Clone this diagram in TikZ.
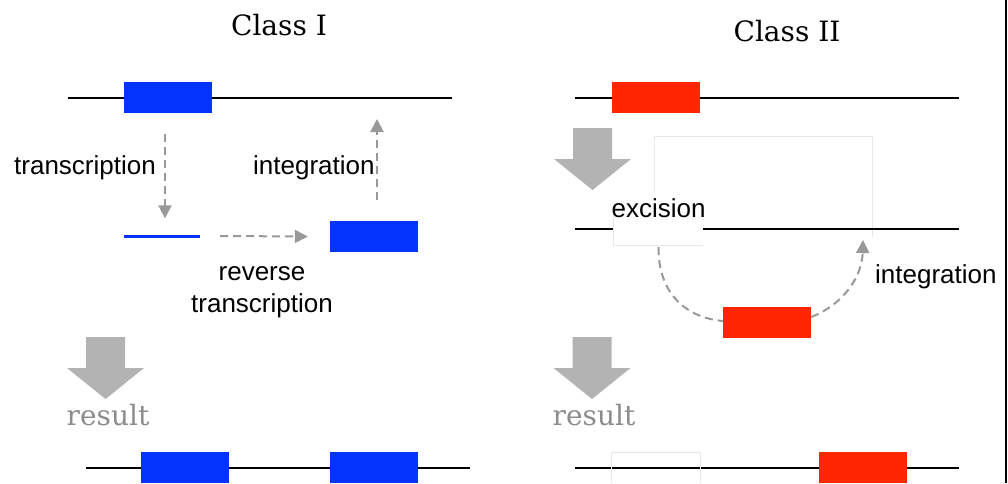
\documentclass[tikz,border=0pt]{standalone}
\usepackage{fontspec}
\setmainfont{Liberation Sans}
\newfontfamily\serf{DejaVu Serif}
\usetikzlibrary{arrows.meta}
\definecolor{tblue}{RGB}{3,51,255}
\definecolor{tred}{RGB}{255,38,0}
\definecolor{dgray}{RGB}{153,153,153}
\definecolor{agray}{RGB}{179,179,179}
\definecolor{rgray}{RGB}{140,140,140}
\definecolor{faint}{RGB}{232,232,232}
\begin{document}
\begin{tikzpicture}[x=1pt,y=-1pt,
  dna/.style={line width=2pt,black},
  bbox/.style={fill=tblue,minimum width=88pt,minimum height=31pt,inner sep=0pt},
  rbox/.style={fill=tred,minimum width=88pt,minimum height=31pt,inner sep=0pt},
  dashline/.style={dgray,line width=2pt,dash pattern=on 8pt off 5pt},
  dasharr/.style={dashline,-{Triangle[width=13pt,length=13pt]}},
  lbl/.style={font=\fontsize{26}{32}\selectfont,inner sep=0pt},
  ttl/.style={font=\serf\fontsize{28}{32}\selectfont,inner sep=0pt},
  res/.style={font=\serf\fontsize{28}{32}\selectfont,text=rgray,inner sep=0pt},
  faintline/.style={faint,line width=1pt},
  bigarr/.pic={\fill[agray] (-38.5,31) -- (-19.5,31) -- (-19.5,0) -- (19.5,0) -- (19.5,31) -- (38.5,31) -- (0,62) -- cycle;}
]
\useasboundingbox (0,0) rectangle (1008,483);
\fill[white] (0,0) rectangle (1008,483);
\draw[line width=2pt] (1006,0) -- (1006,483);

% ---------- Class I ----------
\node[ttl] (t1) at (279,25) {Class I};
\draw[dna] (68,98) -- (452,98);
\node[bbox] (b1) at (167.5,97.5) {};
\coordinate (ins) at (377,98);
\node[fill=tblue,minimum width=76pt,minimum height=3pt,inner sep=0pt] (rna) at (162,236) {};
\node[bbox] (b2) at (374,236.5) {};
\draw[dasharr] ([shift={(-2.5,21)}]b1.south) -- ([shift={(3,-16)}]rna.north);
\draw[dasharr] ([xshift=20pt]rna.east) -- ([xshift=-22pt]b2.west);
\draw[dasharr] ([shift={(3,-21)}]b2.north) -- ([shift={(0,21)}]ins);
\node[lbl,anchor=west] (ltr) at (14,168) {transcription};
\node[lbl,anchor=west] (lint1) at (253,168) {integration};
\node[lbl,align=center] (lrt) at (262,292) {reverse\\transcription};
\pic at (105.5,337) {bigarr};
\node[res] (r1) at (108,415) {result};
\draw[dna] (86,468) -- (470,468);
\node[bbox,anchor=north] (b3) at (185,452) {};
\node[bbox,anchor=north] (b4) at (374,452) {};

% ---------- Class II ----------
\node[ttl] (t2) at (787,31) {Class II};
\draw[dna] (575,98) -- (959,98);
\node[rbox] (r1box) at (656,97.5) {};
\pic at (592.5,128) {bigarr};
\draw[faintline] (654,205) -- (654,136) -- (872,136) -- (872,237);
\draw[dna] (575,229) -- (959,229);
\node[fill=white,minimum width=89pt,minimum height=52pt,inner sep=0pt] (exc) at (658.5,219) {};
\draw[faintline] ([yshift=-22pt]exc.north west) -- (exc.south west) -- (exc.south east);
\node[lbl] (lexc) at (658.5,208) {excision};
\node[rbox] (rm) at (767,322) {};
\coordinate (ins2) at (863,229);
\draw[dashline] ([shift={(0,2)}]exc.south) .. controls (658,295) and (688,318) .. ([shift={(0,-1)}]rm.west);
\draw[dasharr] ([shift={(0,-5)}]rm.east) .. controls (842,305) and (862,278) .. ([shift={(0,11)}]ins2);
\node[lbl,anchor=west] (lint2) at (875,277) {integration};
\pic at (592,337) {bigarr};
\node[res] (r2) at (594,415) {result};
\draw[dna] (575,468) -- (959,468);
\draw[faintline] (611,483) -- (611,452) -- (700,452) -- (700,483);
\node[rbox,anchor=north] (rb) at (863,452) {};
\end{tikzpicture}
\end{document}
